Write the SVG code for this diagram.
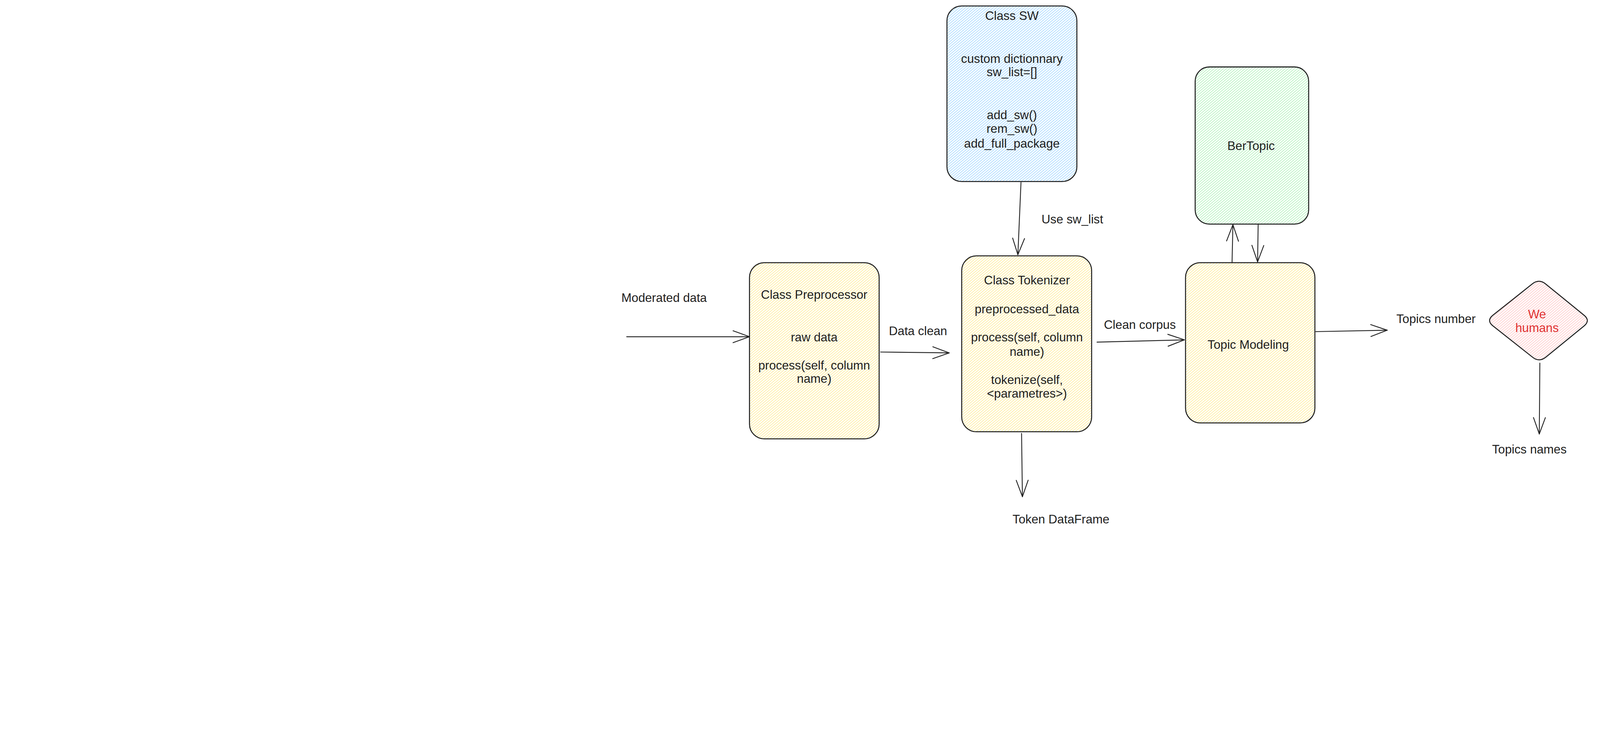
<svg xmlns="http://www.w3.org/2000/svg" width="5640" height="1874" viewBox="0 0 5640 1874" preserveAspectRatio="xMidYMin meet">
<style>
svg{max-width:100vw;max-height:100vh}
.box{stroke:#1e1e1e;stroke-width:3.5;stroke-linejoin:round}
.t{font-family:"Liberation Sans",Arial,sans-serif;font-size:43px;fill:#1e1e1e;text-anchor:middle}
.red{fill:#e03131}
.conn line{stroke:#1e1e1e;stroke-width:3;stroke-linecap:round;marker-end:url(#ah)}
</style>
<defs>
<pattern id="hy" patternUnits="userSpaceOnUse" width="7" height="20" patternTransform="rotate(50)"><line x1="3.5" y1="0" x2="3.5" y2="20" stroke="#ffec99" stroke-width="2.2"/></pattern>
<pattern id="hb" patternUnits="userSpaceOnUse" width="7" height="20" patternTransform="rotate(50)"><line x1="3.5" y1="0" x2="3.5" y2="20" stroke="#a5d8ff" stroke-width="2.2"/></pattern>
<pattern id="hg" patternUnits="userSpaceOnUse" width="7" height="20" patternTransform="rotate(50)"><line x1="3.5" y1="0" x2="3.5" y2="20" stroke="#b2f2bb" stroke-width="2.2"/></pattern>
<pattern id="hp" patternUnits="userSpaceOnUse" width="7" height="20" patternTransform="rotate(50)"><line x1="3.5" y1="0" x2="3.5" y2="20" stroke="#ffc9c9" stroke-width="2.2"/></pattern>
<marker id="ah" markerUnits="userSpaceOnUse" viewBox="-62 -26 66 52" refX="0" refY="0" markerWidth="66" markerHeight="52" orient="auto" overflow="visible">
<path d="M-58,-21 L0,0 L-58,21" fill="none" stroke="#1e1e1e" stroke-width="3" stroke-linecap="round" stroke-linejoin="round"/>
</marker>
</defs>
<rect width="5640" height="1874" fill="#ffffff"/>

<g id="connectors" class="conn">
<line x1="2209" y1="1187" x2="2642" y2="1187"/>
<line x1="3104" y1="1241" x2="3346" y2="1244"/>
<line x1="3599" y1="643" x2="3588" y2="898"/>
<line x1="3601" y1="1528" x2="3604" y2="1751"/>
<line x1="3867" y1="1206" x2="4175" y2="1198"/>
<line x1="4343" y1="925" x2="4346" y2="792"/>
<line x1="4435" y1="792" x2="4433" y2="923"/>
<line x1="4638" y1="1169" x2="4890" y2="1164"/>
<line x1="5428" y1="1280" x2="5426" y2="1530"/>
</g>

<g id="labels">
<text class="t" x="2341" y="1064">Moderated data</text>
<text class="t" x="3236" y="1181">Data clean</text>
<text class="t" x="3780" y="787">Use sw_list</text>
<text class="t" x="4018" y="1160">Clean corpus</text>
<text class="t" x="3740" y="1845">Token DataFrame</text>
<text class="t" x="5062" y="1139">Topics number</text>
<text class="t" x="5391" y="1598">Topics names</text>
</g>

<g id="preprocessor">
<rect class="box" x="2642" y="926" width="457" height="621" rx="52" fill="url(#hy)"/>
<text class="t" x="2870" y="1053">Class Preprocessor</text>
<text class="t" x="2870" y="1203">raw data</text>
<text class="t" x="2870" y="1303">process(self, column</text>
<text class="t" x="2870" y="1350">name)</text>
</g>

<g id="tokenizer">
<rect class="box" x="3390" y="902" width="458" height="620" rx="52" fill="url(#hy)"/>
<text class="t" x="3620" y="1002">Class Tokenizer</text>
<text class="t" x="3620" y="1105">preprocessed_data</text>
<text class="t" x="3620" y="1203">process(self, column</text>
<text class="t" x="3620" y="1254">name)</text>
<text class="t" x="3620" y="1353">tokenize(self,</text>
<text class="t" x="3620" y="1402">&lt;parametres&gt;)</text>
</g>

<g id="class-sw">
<rect class="box" x="3338" y="21" width="458" height="619" rx="52" fill="url(#hb)"/>
<text class="t" x="3567" y="70">Class SW</text>
<text class="t" x="3567" y="222">custom dictionnary</text>
<text class="t" x="3567" y="268">sw_list=[]</text>
<text class="t" x="3567" y="420">add_sw()</text>
<text class="t" x="3567" y="468">rem_sw()</text>
<text class="t" x="3567" y="520">add_full_package</text>
</g>

<g id="bertopic">
<rect class="box" x="4213" y="236" width="400" height="554" rx="50" fill="url(#hg)"/>
<text class="t" x="4410" y="529">BerTopic</text>
</g>

<g id="topic-modeling">
<rect class="box" x="4179" y="926" width="456" height="565" rx="52" fill="url(#hy)"/>
<text class="t" x="4400" y="1229">Topic Modeling</text>
</g>

<g id="we-humans">
<path class="box" fill="url(#hp)" d="M5448.3,1000.9 L5583.7,1111.1 Q5607,1130 5583.8,1149 L5449.2,1259 Q5426,1278 5402.5,1259.4 L5262.5,1148.6 Q5239,1130 5262.5,1111.3 L5401.5,1000.7 Q5425,982 5448.3,1000.9 Z"/>
<text class="t red" x="5418" y="1122">We</text>
<text class="t red" x="5418" y="1170">humans</text>
</g>
</svg>
